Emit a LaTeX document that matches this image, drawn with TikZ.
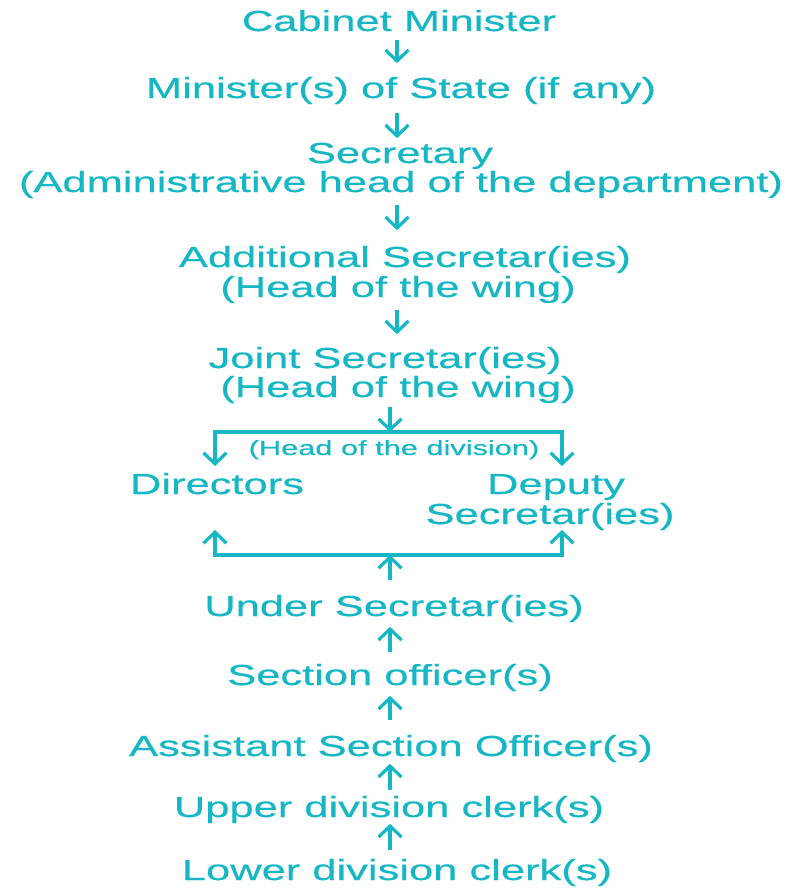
\documentclass[tikz,border=0pt]{standalone}
\usepackage{fontspec}
\setmainfont{Liberation Sans}[FakeStretch=1.5,FakeBold=0.4]
\usetikzlibrary{arrows.meta}
\definecolor{cy}{RGB}{22,183,196}
\begin{document}
\begin{tikzpicture}[x=1pt,y=-1pt,
  lbl/.style={text=cy, font=\fontsize{29}{31}\selectfont, inner sep=0pt, anchor=base, text height=21pt, text depth=6pt},
  sml/.style={text=cy, font=\fontsize{20.5}{22}\selectfont, inner sep=0pt, anchor=base},
  arr/.style={draw=cy, line width=3.2pt, -{Straight Barb[length=11pt,width=23pt]}},
  ln/.style={draw=cy, line width=3.2pt}]
\useasboundingbox (0,0) rectangle (794,891);
% top chain
\node[lbl] (cab) at (399,31) {Cabinet Minister};
\node[lbl] (min) at (401,98) {Minister(s) of State (if any)};
\node[lbl] (sec) at (400,163) {Secretary};
\node[lbl] (adm) at (401,192) {(Administrative head of the department)};
\node[lbl] (add) at (405,267) {Additional Secretar(ies)};
\node[lbl] (wa) at (398,297) {(Head of the wing)};
\node[lbl] (joint) at (385,368) {Joint Secretar(ies)};
\node[lbl] (wb) at (398,397) {(Head of the wing)};
\node[sml] (div) at (394,455) {(Head of the division)};
\node[lbl] (dir) at (217,494) {Directors};
\node[lbl] (dep) at (556,494) {Deputy};
\node[lbl] (dsec) at (550,524) {Secretar(ies)};
% bottom chain
\node[lbl] (under) at (394,616) {Under Secretar(ies)};
\node[lbl] (secoff) at (390,685) {Section officer(s)};
\node[lbl] (asst) at (391,756) {Assistant Section Officer(s)};
\node[lbl] (upper) at (389,817) {Upper division clerk(s)};
\node[lbl] (lower) at (397,880) {Lower division clerk(s)};
% branch coordinates
\coordinate (ax) at (397,0);
\coordinate (tl) at (215,432);
\coordinate (tr) at (562,432);
\coordinate (tm) at (390,432);
\coordinate (bl) at (215,555);
\coordinate (br) at (562,555);
\coordinate (bm) at (390,555);
% top arrows
\draw[arr] (cab.south -| ax) ++(0,3) -- ++(0,23);
\draw[arr] (min.south -| ax) ++(0,9) -- ++(0,25);
\draw[arr] (adm.south -| ax) ++(0,7) -- ++(0,25);
\draw[arr] (wa.south -| ax) ++(0,7) -- ++(0,24);
\draw[arr] (wb.south -| tm) ++(0,4) -- (tm);
\draw[arr] (tr) -- (tl) -- ++(0,34);
\draw[arr] (tl) -- (tr) -- ++(0,34);
% bottom arrows
\draw[arr] (br) -- (bl) -- ++(0,-25);
\draw[arr] (bl) -- (br) -- ++(0,-25);
\draw[arr] (under.north -| bm) ++(0,-15) -- (bm);
\draw[arr] (secoff.north -| bm) ++(0,-12) -- ++(0,-25);
\draw[arr] (asst.north -| bm) ++(0,-15) -- ++(0,-24);
\draw[arr] (upper.north -| bm) ++(0,-6) -- ++(0,-26);
\draw[arr] (lower.north -| bm) ++(0,-9) -- ++(0,-26);
\end{tikzpicture}
\end{document}
